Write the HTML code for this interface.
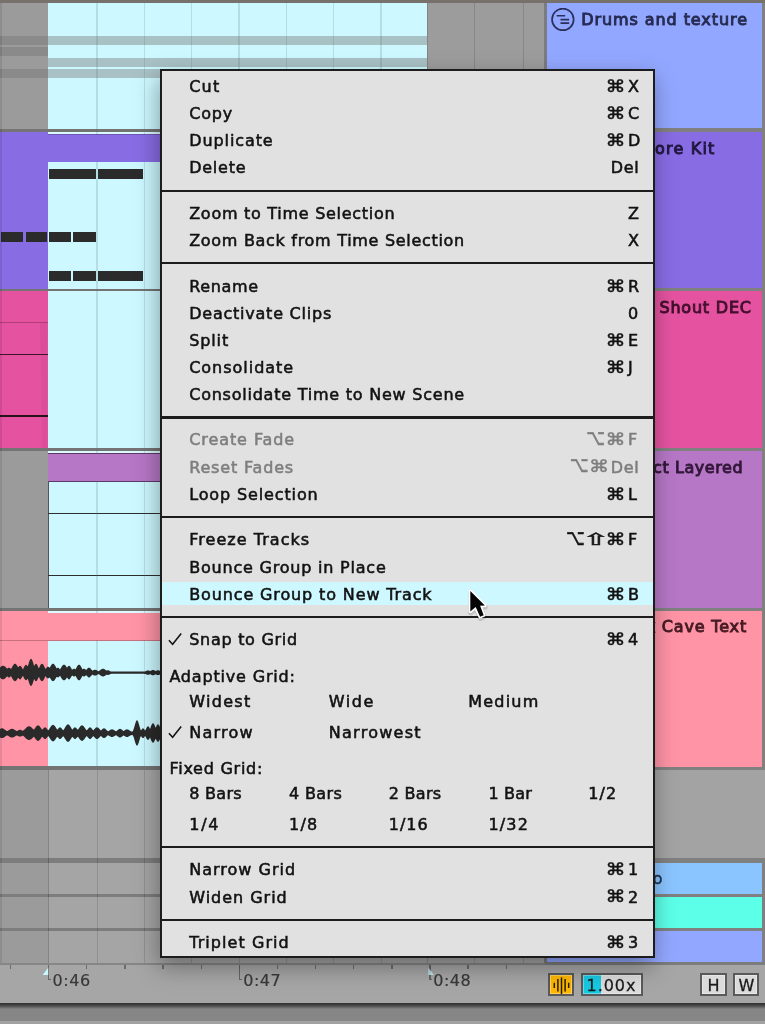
<!DOCTYPE html>
<html lang="en"><head><meta charset="utf-8"><title>Ableton Live context menu</title>
<style>
*{box-sizing:border-box;margin:0;padding:0}
html,body{width:765px;height:1024px;overflow:hidden;background:#a5a5a5}
body{font-family:"DejaVu Sans", "Liberation Sans", sans-serif;font-size:16px;color:#121212;position:relative;-webkit-font-smoothing:antialiased}
#app{position:absolute;left:0;top:0;width:765px;height:1024px;overflow:hidden;background:#a5a5a5}
.a{position:absolute}
.t{position:absolute;white-space:nowrap;line-height:20px;height:20px;-webkit-text-stroke:.55px currentColor}
#menu{position:absolute;left:160px;top:69px;width:494.5px;height:889px;background:#e1e1e1;border:2px solid #1c1c1c;box-shadow:-2px 9px 22px 0 rgba(0,0,0,.35)}
#menu .sep{position:absolute;left:0;right:0;height:2.4px;background:#1c1c1c}
#menu .hl{position:absolute;left:0;right:0;background:#cdf8ff}
#menu .dis{color:#7e7e7e}
.hd{position:absolute;left:547px;width:215px}
.hd b{position:absolute;white-space:nowrap;font-weight:normal;line-height:20px;height:20px;font-size:16px;-webkit-text-stroke:.95px currentColor}
.btn{position:absolute;top:973.3px;height:22.8px;border:2px solid #5a5a5a;background:#dbdbdb;box-shadow:inset 0 0 0 1px rgba(255,255,255,.35)}
.btn .t{-webkit-text-stroke:.28px currentColor}
</style></head>
<body><div id="app">
<div class="a" style="left:0px;top:0px;width:765px;height:3.2px;background:#77716c;"></div>
<div class="a" style="left:0px;top:3px;width:47.6px;height:125.5px;background:#9b9b9b;"></div>
<div class="a" style="left:47.6px;top:3px;width:379.5px;height:125.5px;background:#cdf8ff;"></div>
<div class="a" style="left:426.8px;top:3px;width:118px;height:125.5px;background:#9c9c9c;"></div>
<div class="a" style="left:0px;top:36.2px;width:47.6px;height:8.5px;background:#8a8a8a;"></div>
<div class="a" style="left:47.6px;top:36.2px;width:379.5px;height:8.5px;background:#a8c1c4;"></div>
<div class="a" style="left:0px;top:46.8px;width:47.6px;height:9px;background:#8a8a8a;"></div>
<div class="a" style="left:47.6px;top:58px;width:379.5px;height:8.7px;background:#a8c1c4;"></div>
<div class="a" style="left:0px;top:69px;width:47.6px;height:8.6px;background:#8a8a8a;"></div>
<div class="a" style="left:47.6px;top:69px;width:379.5px;height:8.6px;background:#a8c1c4;"></div>
<div class="a" style="left:0px;top:128.5px;width:545px;height:3px;background:#747474;"></div>
<div class="a" style="left:0px;top:288.3px;width:545px;height:3px;background:#747474;"></div>
<div class="a" style="left:0px;top:448px;width:545px;height:3px;background:#747474;"></div>
<div class="a" style="left:0px;top:607.5px;width:545px;height:3px;background:#747474;"></div>
<div class="a" style="left:0px;top:131.5px;width:47.6px;height:157px;background:#886ce4;"></div>
<div class="a" style="left:47.6px;top:131.5px;width:380px;height:157px;background:#cdf8ff;"></div>
<div class="a" style="left:47.6px;top:131.5px;width:380px;height:2.5px;background:#dcfaff;"></div>
<div class="a" style="left:0px;top:133.5px;width:427px;height:28.5px;background:#886ce4;"></div>
<div class="a" style="left:47.6px;top:133.5px;width:380px;height:1px;background:#6a55b5;"></div>
<div class="a" style="left:48.6px;top:169px;width:47.4px;height:10px;background:#2b2b2b;"></div>
<div class="a" style="left:97.8px;top:169px;width:45.6px;height:10px;background:#2b2b2b;"></div>
<div class="a" style="left:1px;top:232px;width:22.3px;height:10px;background:#2b2b2b;"></div>
<div class="a" style="left:25.5px;top:232px;width:21.5px;height:10px;background:#2b2b2b;"></div>
<div class="a" style="left:49px;top:232px;width:21.7px;height:10px;background:#2b2b2b;"></div>
<div class="a" style="left:73px;top:232px;width:23px;height:10px;background:#2b2b2b;"></div>
<div class="a" style="left:48.6px;top:270.5px;width:22.1px;height:10px;background:#2b2b2b;"></div>
<div class="a" style="left:73px;top:270.5px;width:23px;height:10px;background:#2b2b2b;"></div>
<div class="a" style="left:97.8px;top:270.5px;width:45.6px;height:10px;background:#2b2b2b;"></div>
<div class="a" style="left:0px;top:291.3px;width:47.6px;height:157px;background:#e553a0;"></div>
<div class="a" style="left:47.6px;top:291.3px;width:380px;height:157px;background:#cdf8ff;"></div>
<svg class="a" style="left:38px;top:322px" width="10" height="126"><polygon points="2,0 9.3,0 9.3,126 4.2,126" fill="#dc4e99"/></svg>
<div class="a" style="left:0px;top:321.5px;width:47.6px;height:1.2px;background:#b03c78;"></div>
<div class="a" style="left:0px;top:353.6px;width:47.6px;height:1.3px;background:#3a1528;"></div>
<div class="a" style="left:0px;top:415px;width:47.6px;height:1.5px;background:#2a0f1d;"></div>
<div class="a" style="left:0px;top:451px;width:47.6px;height:157px;background:#9b9b9b;"></div>
<div class="a" style="left:47.6px;top:451px;width:380px;height:157px;background:#cdf8ff;"></div>
<div class="a" style="left:47.6px;top:451px;width:380px;height:2.5px;background:#dcfaff;"></div>
<div class="a" style="left:47.6px;top:453.3px;width:380px;height:28.5px;background:#b677c6;border:1px solid #5d3a66"></div>
<div class="a" style="left:47.6px;top:481px;width:1.3px;height:127px;background:#555;"></div>
<div class="a" style="left:47.6px;top:512.8px;width:380px;height:1.3px;background:#2e2e2e;"></div>
<div class="a" style="left:47.6px;top:574.6px;width:380px;height:1.3px;background:#2e2e2e;"></div>
<div class="a" style="left:0px;top:610.5px;width:47.6px;height:156px;background:#ff94a6;"></div>
<div class="a" style="left:47.6px;top:610.5px;width:380px;height:156px;background:#cdf8ff;"></div>
<div class="a" style="left:47.6px;top:610.5px;width:380px;height:2.3px;background:#dcfaff;"></div>
<div class="a" style="left:47.6px;top:612.8px;width:380px;height:27.7px;background:#ff94a6;"></div>
<div class="a" style="left:0px;top:640px;width:427px;height:1px;background:#c9707f;"></div>
<div class="a" style="left:0px;top:766.3px;width:545px;height:3.5px;background:#747474;"></div>
<div class="a" style="left:0px;top:769.8px;width:47.8px;height:193px;background:#9b9b9b;"></div>
<div class="a" style="left:47.8px;top:769.8px;width:497px;height:193px;background:#a5a5a5;"></div>
<div class="a" style="left:0px;top:857.6px;width:545px;height:5px;background:#7d7d7d;"></div>
<div class="a" style="left:0px;top:893.6px;width:545px;height:3.2px;background:#7d7d7d;"></div>
<div class="a" style="left:0px;top:928px;width:545px;height:3.2px;background:#7d7d7d;"></div>
<div class="a" style="left:426.8px;top:131.5px;width:118px;height:635px;background:#9c9c9c;"></div>
<div class="a" style="left:426.8px;top:128.5px;width:118px;height:3px;background:#747474;"></div>
<div class="a" style="left:426.8px;top:288.3px;width:118px;height:3px;background:#747474;"></div>
<div class="a" style="left:426.8px;top:448px;width:118px;height:3px;background:#747474;"></div>
<div class="a" style="left:426.8px;top:607.5px;width:118px;height:3px;background:#747474;"></div>
<div class="a" style="left:426.8px;top:766.3px;width:118px;height:3px;background:#747474;"></div>
<div class="a" style="left:96.39999999999999px;top:3px;width:1.4px;height:763px;background:rgba(80,115,122,.2);"></div>
<div class="a" style="left:96.6px;top:770px;width:1px;height:193px;background:rgba(0,0,0,.13);"></div>
<div class="a" style="left:143.8px;top:3px;width:1.4px;height:763px;background:rgba(80,115,122,.2);"></div>
<div class="a" style="left:144px;top:770px;width:1px;height:193px;background:rgba(0,0,0,.13);"></div>
<div class="a" style="left:191.10000000000002px;top:3px;width:1.4px;height:763px;background:rgba(80,115,122,.2);"></div>
<div class="a" style="left:191.3px;top:770px;width:1px;height:193px;background:rgba(0,0,0,.13);"></div>
<div class="a" style="left:238.4px;top:3px;width:1.4px;height:763px;background:rgba(80,115,122,.2);"></div>
<div class="a" style="left:238.6px;top:770px;width:1px;height:193px;background:rgba(0,0,0,.13);"></div>
<div class="a" style="left:285.8px;top:3px;width:1.4px;height:763px;background:rgba(80,115,122,.2);"></div>
<div class="a" style="left:286px;top:770px;width:1px;height:193px;background:rgba(0,0,0,.13);"></div>
<div class="a" style="left:333.0px;top:3px;width:1.4px;height:763px;background:rgba(80,115,122,.2);"></div>
<div class="a" style="left:333.2px;top:770px;width:1px;height:193px;background:rgba(0,0,0,.13);"></div>
<div class="a" style="left:380.3px;top:3px;width:1.4px;height:763px;background:rgba(80,115,122,.2);"></div>
<div class="a" style="left:380.5px;top:770px;width:1px;height:193px;background:rgba(0,0,0,.13);"></div>
<div class="a" style="left:47.6px;top:770px;width:1.3px;height:193px;background:rgba(0,0,0,.2);"></div>
<div class="a" style="left:426.6px;top:3px;width:1.2px;height:960px;background:rgba(0,0,0,.16);"></div>
<div class="a" style="left:0px;top:3px;width:2px;height:960px;background:rgba(0,0,0,.09);"></div>
<div class="a" style="left:473.8px;top:3px;width:1px;height:960px;background:rgba(0,0,0,.13);"></div>
<div class="a" style="left:522.8px;top:3px;width:1px;height:960px;background:rgba(0,0,0,.13);"></div>
<div class="a" style="left:47.6px;top:134.5px;width:380px;height:27.5px;background:#886ce4;"></div>
<div class="a" style="left:48.3px;top:454.3px;width:378.5px;height:26.5px;background:#b677c6;"></div>
<div class="a" style="left:47.6px;top:612.8px;width:380px;height:27.2px;background:#ff94a6;"></div>
<div class="a" style="left:544.4px;top:3px;width:3px;height:960px;background:#7c7c7c;"></div>
<svg class="a" style="left:0;top:641px" width="162" height="126" viewBox="0 641 162 126"><polygon points="0.0,667.5 0.5,667.0 1.0,666.5 1.5,666.2 2.0,665.9 2.5,665.8 3.0,665.7 3.5,665.8 4.0,665.9 4.5,666.2 5.0,666.5 5.5,667.0 6.0,667.5 6.5,668.0 7.0,668.6 7.5,668.5 8.0,668.1 8.5,667.8 9.0,667.7 9.5,667.8 10.0,668.1 10.5,668.5 11.0,669.1 11.5,668.2 12.0,667.2 12.5,666.3 13.0,665.4 13.5,664.7 14.0,664.2 14.5,663.8 15.0,663.7 15.5,663.8 16.0,664.2 16.5,664.7 17.0,665.4 17.5,666.3 18.0,667.2 18.5,667.0 19.0,666.3 19.5,665.9 20.0,665.7 20.5,665.9 21.0,666.3 21.5,667.0 22.0,667.8 22.5,668.8 23.0,669.4 23.5,668.3 24.0,667.2 24.5,666.2 25.0,665.4 25.5,664.9 26.0,664.7 26.5,664.9 27.0,665.4 27.5,666.2 28.0,665.8 28.5,664.0 29.0,662.3 29.5,660.8 30.0,659.7 30.5,659.0 31.0,658.7 31.5,659.0 32.0,659.7 32.5,660.8 33.0,662.3 33.5,664.0 34.0,665.8 34.5,665.4 35.0,664.5 35.5,663.9 36.0,663.7 36.5,663.9 37.0,664.5 37.5,665.4 38.0,666.6 38.5,667.9 39.0,668.0 39.5,666.9 40.0,665.9 40.5,665.0 41.0,664.3 41.5,663.9 42.0,663.7 42.5,663.9 43.0,664.3 43.5,665.0 44.0,665.9 44.5,666.9 45.0,668.0 45.5,669.1 46.0,668.5 46.5,667.8 47.0,667.2 47.5,666.8 48.0,666.7 48.5,666.8 49.0,667.2 49.5,667.8 50.0,667.2 50.5,666.3 51.0,665.4 51.5,664.7 52.0,664.2 52.5,663.8 53.0,663.7 53.5,663.8 54.0,664.2 54.5,664.7 55.0,665.4 55.5,666.3 56.0,667.2 56.5,668.2 57.0,668.3 57.5,667.8 58.0,667.7 58.5,667.8 59.0,668.3 59.5,668.9 60.0,669.4 60.5,668.6 61.0,667.8 61.5,667.0 62.0,666.2 62.5,665.6 63.0,665.1 63.5,664.8 64.0,664.7 64.5,664.8 65.0,665.1 65.5,665.6 66.0,666.2 66.5,667.0 67.0,667.8 67.5,667.0 68.0,666.3 68.5,665.9 69.0,665.7 69.5,665.9 70.0,666.3 70.5,667.0 71.0,667.8 71.5,668.8 72.0,669.7 72.5,669.6 73.0,669.1 73.5,668.8 74.0,668.7 74.5,668.8 75.0,669.1 75.5,669.4 76.0,668.5 76.5,667.5 77.0,666.6 77.5,665.8 78.0,665.2 78.5,664.8 79.0,664.7 79.5,664.8 80.0,665.2 80.5,665.8 81.0,666.6 81.5,667.5 82.0,668.5 82.5,669.4 83.0,669.1 83.5,668.8 84.0,668.7 84.5,668.8 85.0,669.1 85.5,669.6 86.0,670.1 86.5,669.7 87.0,669.1 87.5,668.5 88.0,668.1 88.5,667.8 89.0,667.7 89.5,667.8 90.0,668.1 90.5,668.5 91.0,669.1 91.5,669.7 92.0,670.3 92.5,670.7 93.0,670.4 93.5,670.1 94.0,669.9 94.5,669.7 95.0,669.7 95.5,669.7 96.0,669.9 96.5,670.1 97.0,670.4 97.5,670.7 98.0,670.9 98.5,671.2 99.0,671.0 99.5,670.6 100.0,670.3 100.5,669.9 101.0,669.5 101.5,669.2 102.0,668.9 102.5,668.8 103.0,668.7 103.5,668.8 104.0,668.9 104.5,669.2 105.0,669.5 105.5,669.9 106.0,670.3 106.5,670.6 107.0,670.5 107.5,670.3 108.0,670.2 108.5,670.3 109.0,670.5 109.5,670.8 110.0,671.1 110.5,671.4 111.0,671.5 111.5,671.5 112.0,671.5 112.5,671.5 113.0,671.5 113.5,671.5 114.0,671.5 114.5,671.5 115.0,671.5 115.5,671.5 116.0,671.5 116.5,671.5 117.0,671.5 117.5,671.5 118.0,671.5 118.5,671.5 119.0,671.5 119.5,671.5 120.0,671.5 120.5,671.5 121.0,671.5 121.5,671.5 122.0,671.5 122.5,671.5 123.0,671.5 123.5,671.5 124.0,671.5 124.5,671.5 125.0,671.5 125.5,671.5 126.0,671.5 126.5,671.5 127.0,671.5 127.5,671.5 128.0,671.5 128.5,671.5 129.0,671.5 129.5,671.5 130.0,671.5 130.5,671.5 131.0,671.5 131.5,671.5 132.0,671.5 132.5,671.5 133.0,671.5 133.5,671.5 134.0,671.5 134.5,671.5 135.0,671.5 135.5,671.5 136.0,671.5 136.5,671.5 137.0,671.5 137.5,671.5 138.0,671.5 138.5,671.5 139.0,671.5 139.5,671.5 140.0,671.5 140.5,671.5 141.0,671.5 141.5,671.5 142.0,671.5 142.5,671.5 143.0,671.5 143.5,671.5 144.0,671.5 144.5,671.5 145.0,671.4 145.5,671.2 146.0,671.0 146.5,670.8 147.0,670.6 147.5,670.5 148.0,670.5 148.5,670.5 149.0,670.6 149.5,670.8 150.0,671.0 150.5,671.0 151.0,670.7 151.5,670.4 152.0,670.1 152.5,670.0 153.0,669.9 153.5,670.0 154.0,670.1 154.5,670.4 155.0,670.7 155.5,671.0 156.0,670.9 156.5,670.6 157.0,670.4 157.5,670.2 158.0,670.2 158.5,670.2 159.0,670.4 159.5,670.6 160.0,670.9 160.5,671.1 161.0,671.3 161.5,671.5 162.0,671.5 162.0,673.8 161.5,673.9 161.0,674.0 160.5,674.2 160.0,674.5 159.5,674.7 159.0,674.9 158.5,675.0 158.0,675.1 157.5,675.0 157.0,674.9 156.5,674.7 156.0,674.5 155.5,674.3 155.0,674.6 154.5,674.9 154.0,675.1 153.5,675.3 153.0,675.4 152.5,675.3 152.0,675.1 151.5,674.9 151.0,674.6 150.5,674.3 150.0,674.3 149.5,674.5 149.0,674.7 148.5,674.8 148.0,674.8 147.5,674.8 147.0,674.7 146.5,674.5 146.0,674.3 145.5,674.1 145.0,674.0 144.5,673.9 144.0,673.8 143.5,673.8 143.0,673.8 142.5,673.8 142.0,673.8 141.5,673.8 141.0,673.8 140.5,673.8 140.0,673.8 139.5,673.8 139.0,673.8 138.5,673.8 138.0,673.8 137.5,673.8 137.0,673.8 136.5,673.8 136.0,673.8 135.5,673.8 135.0,673.8 134.5,673.8 134.0,673.8 133.5,673.8 133.0,673.8 132.5,673.8 132.0,673.8 131.5,673.8 131.0,673.8 130.5,673.8 130.0,673.8 129.5,673.8 129.0,673.8 128.5,673.8 128.0,673.8 127.5,673.8 127.0,673.8 126.5,673.8 126.0,673.8 125.5,673.8 125.0,673.8 124.5,673.8 124.0,673.8 123.5,673.8 123.0,673.8 122.5,673.8 122.0,673.8 121.5,673.8 121.0,673.8 120.5,673.8 120.0,673.8 119.5,673.8 119.0,673.8 118.5,673.8 118.0,673.8 117.5,673.8 117.0,673.8 116.5,673.8 116.0,673.8 115.5,673.8 115.0,673.8 114.5,673.8 114.0,673.8 113.5,673.8 113.0,673.8 112.5,673.8 112.0,673.8 111.5,673.8 111.0,673.9 110.5,674.0 110.0,674.2 109.5,674.5 109.0,674.8 108.5,675.0 108.0,675.1 107.5,675.0 107.0,674.8 106.5,674.7 106.0,675.0 105.5,675.4 105.0,675.7 104.5,676.1 104.0,676.3 103.5,676.4 103.0,676.5 102.5,676.4 102.0,676.3 101.5,676.1 101.0,675.7 100.5,675.4 100.0,675.0 99.5,674.7 99.0,674.3 98.5,674.1 98.0,674.4 97.5,674.6 97.0,674.9 96.5,675.2 96.0,675.4 95.5,675.5 95.0,675.6 94.5,675.5 94.0,675.4 93.5,675.2 93.0,674.9 92.5,674.6 92.0,675.0 91.5,675.5 91.0,676.1 90.5,676.6 90.0,677.1 89.5,677.4 89.0,677.5 88.5,677.4 88.0,677.1 87.5,676.6 87.0,676.1 86.5,675.5 86.0,675.2 85.5,675.7 85.0,676.1 84.5,676.4 84.0,676.5 83.5,676.4 83.0,676.1 82.5,675.8 82.0,676.7 81.5,677.6 81.0,678.5 80.5,679.2 80.0,679.8 79.5,680.2 79.0,680.3 78.5,680.2 78.0,679.8 77.5,679.2 77.0,678.5 76.5,677.6 76.0,676.7 75.5,675.8 75.0,676.1 74.5,676.4 74.0,676.5 73.5,676.4 73.0,676.1 72.5,675.7 72.0,675.5 71.5,676.4 71.0,677.3 70.5,678.1 70.0,678.8 69.5,679.2 69.0,679.4 68.5,679.2 68.0,678.8 67.5,678.1 67.0,677.4 66.5,678.2 66.0,678.9 65.5,679.5 65.0,679.9 64.5,680.2 64.0,680.3 63.5,680.2 63.0,679.9 62.5,679.5 62.0,678.9 61.5,678.2 61.0,677.4 60.5,676.6 60.0,675.8 59.5,676.3 59.0,676.9 58.5,677.3 58.0,677.5 57.5,677.3 57.0,676.9 56.5,677.0 56.0,677.9 55.5,678.8 55.0,679.6 54.5,680.3 54.0,680.8 53.5,681.1 53.0,681.2 52.5,681.1 52.0,680.8 51.5,680.3 51.0,679.6 50.5,678.8 50.0,677.9 49.5,677.4 49.0,677.9 48.5,678.3 48.0,678.4 47.5,678.3 47.0,677.9 46.5,677.4 46.0,676.7 45.5,676.1 45.0,677.1 44.5,678.2 44.0,679.2 43.5,680.0 43.0,680.7 42.5,681.1 42.0,681.2 41.5,681.1 41.0,680.7 40.5,680.0 40.0,679.2 39.5,678.2 39.0,677.1 38.5,677.3 38.0,678.5 37.5,679.6 37.0,680.5 36.5,681.1 36.0,681.2 35.5,681.1 35.0,680.5 34.5,679.6 34.0,679.2 33.5,680.9 33.0,682.6 32.5,684.0 32.0,685.1 31.5,685.8 31.0,686.0 30.5,685.8 30.0,685.1 29.5,684.0 29.0,682.6 28.5,680.9 28.0,679.2 27.5,678.9 27.0,679.6 26.5,680.1 26.0,680.3 25.5,680.1 25.0,679.6 24.5,678.9 24.0,677.9 23.5,676.9 23.0,675.8 22.5,676.4 22.0,677.3 21.5,678.1 21.0,678.8 20.5,679.2 20.0,679.4 19.5,679.2 19.0,678.8 18.5,678.1 18.0,677.9 17.5,678.8 17.0,679.6 16.5,680.3 16.0,680.8 15.5,681.1 15.0,681.2 14.5,681.1 14.0,680.8 13.5,680.3 13.0,679.6 12.5,678.8 12.0,677.9 11.5,677.0 11.0,676.1 10.5,676.6 10.0,677.1 9.5,677.4 9.0,677.5 8.5,677.4 8.0,677.1 7.5,676.6 7.0,676.6 6.5,677.1 6.0,677.6 5.5,678.1 5.0,678.5 4.5,678.9 4.0,679.1 3.5,679.3 3.0,679.4 2.5,679.3 2.0,679.1 1.5,678.9 1.0,678.5 0.5,678.1 0.0,677.6" fill="#2a2a2a"/><polygon points="0.0,729.0 0.5,728.7 1.0,728.5 1.5,728.3 2.0,728.3 2.5,728.3 3.0,728.5 3.5,728.7 4.0,729.0 4.5,729.4 5.0,729.7 5.5,730.1 6.0,730.5 6.5,730.9 7.0,731.1 7.5,731.0 8.0,730.7 8.5,730.3 9.0,730.0 9.5,729.7 10.0,729.4 10.5,729.1 11.0,729.0 11.5,728.8 12.0,728.8 12.5,728.8 13.0,729.0 13.5,729.1 14.0,729.4 14.5,729.7 15.0,730.0 15.5,730.3 16.0,730.7 16.5,731.0 17.0,731.0 17.5,730.7 18.0,730.4 18.5,730.2 19.0,730.0 19.5,729.8 20.0,729.8 20.5,729.8 21.0,730.0 21.5,730.2 22.0,730.4 22.5,730.7 23.0,730.7 23.5,730.3 24.0,729.9 24.5,729.4 25.0,728.9 25.5,728.4 26.0,727.9 26.5,727.5 27.0,727.1 27.5,726.7 28.0,726.5 28.5,726.3 29.0,726.3 29.5,726.3 30.0,726.5 30.5,726.7 31.0,727.1 31.5,727.5 32.0,727.9 32.5,728.4 33.0,728.9 33.5,729.4 34.0,729.6 34.5,728.9 35.0,728.1 35.5,727.4 36.0,726.7 36.5,726.1 37.0,725.7 37.5,725.4 38.0,725.3 38.5,725.4 39.0,725.7 39.5,726.1 40.0,726.7 40.5,727.4 41.0,728.1 41.5,728.9 42.0,729.6 42.5,729.5 43.0,728.9 43.5,728.2 44.0,727.7 44.5,727.4 45.0,727.3 45.5,727.4 46.0,727.7 46.5,728.2 47.0,728.9 47.5,729.5 48.0,730.2 48.5,730.1 49.0,729.4 49.5,728.6 50.0,727.8 50.5,727.0 51.0,726.3 51.5,725.7 52.0,725.2 52.5,724.9 53.0,724.8 53.5,724.9 54.0,725.2 54.5,725.7 55.0,726.3 55.5,727.0 56.0,727.8 56.5,728.6 57.0,729.4 57.5,729.5 58.0,728.9 58.5,728.2 59.0,727.7 59.5,727.4 60.0,727.3 60.5,727.4 61.0,727.7 61.5,728.2 62.0,728.9 62.5,729.5 63.0,730.2 63.5,730.0 64.0,729.3 64.5,728.4 65.0,727.5 65.5,726.7 66.0,725.9 66.5,725.2 67.0,724.7 67.5,724.4 68.0,724.3 68.5,724.4 69.0,724.7 69.5,725.2 70.0,725.9 70.5,726.7 71.0,727.5 71.5,728.4 72.0,729.3 72.5,729.5 73.0,728.9 73.5,728.2 74.0,727.7 74.5,727.4 75.0,727.3 75.5,727.4 76.0,727.7 76.5,728.2 77.0,728.9 77.5,729.5 78.0,729.6 78.5,728.9 79.0,728.1 79.5,727.4 80.0,726.7 80.5,726.1 81.0,725.7 81.5,725.4 82.0,725.3 82.5,725.4 83.0,725.7 83.5,726.1 84.0,726.7 84.5,727.4 85.0,728.1 85.5,728.9 86.0,729.6 86.5,730.2 87.0,730.2 87.5,729.5 88.0,728.9 88.5,728.2 89.0,727.7 89.5,727.4 90.0,727.3 90.5,727.4 91.0,727.7 91.5,728.2 92.0,728.9 92.5,729.5 93.0,730.2 93.5,730.2 94.0,729.6 94.5,729.0 95.0,728.5 95.5,728.0 96.0,727.6 96.5,727.4 97.0,727.3 97.5,727.4 98.0,727.6 98.5,728.0 99.0,728.5 99.5,729.0 100.0,729.6 100.5,730.2 101.0,730.5 101.5,730.0 102.0,729.5 102.5,729.0 103.0,728.6 103.5,728.4 104.0,728.3 104.5,728.4 105.0,728.6 105.5,729.0 106.0,729.5 106.5,730.0 107.0,730.5 107.5,731.0 108.0,731.3 108.5,731.1 109.0,730.8 109.5,730.5 110.0,730.1 110.5,729.8 111.0,729.5 111.5,729.4 112.0,729.3 112.5,729.4 113.0,729.5 113.5,729.8 114.0,730.1 114.5,730.5 115.0,730.8 115.5,731.1 116.0,731.3 116.5,731.0 117.0,730.7 117.5,730.2 118.0,729.8 118.5,729.4 119.0,729.1 119.5,728.9 120.0,728.8 120.5,728.9 121.0,729.1 121.5,729.4 122.0,729.8 122.5,730.2 123.0,730.7 123.5,731.0 124.0,730.8 124.5,730.5 125.0,730.1 125.5,729.8 126.0,729.5 126.5,729.4 127.0,729.3 127.5,729.4 128.0,729.5 128.5,729.8 129.0,730.1 129.5,730.5 130.0,730.8 130.5,731.1 131.0,731.4 131.5,731.5 132.0,731.5 132.5,731.4 133.0,730.7 133.5,729.6 134.0,728.0 134.5,726.3 135.0,724.5 135.5,722.8 136.0,721.5 136.5,720.6 137.0,720.3 137.5,720.6 138.0,721.5 138.5,722.8 139.0,724.5 139.5,726.3 140.0,728.0 140.5,729.6 141.0,730.5 141.5,729.7 142.0,729.0 142.5,728.5 143.0,728.3 143.5,728.5 144.0,729.0 144.5,729.7 145.0,730.5 145.5,729.9 146.0,728.9 146.5,727.9 147.0,727.1 147.5,726.5 148.0,726.3 148.5,726.5 149.0,727.1 149.5,727.9 150.0,728.9 150.5,727.7 151.0,726.3 151.5,725.1 152.0,724.1 152.5,723.5 153.0,723.3 153.5,723.5 154.0,724.1 154.5,725.1 155.0,726.3 155.5,727.7 156.0,727.0 156.5,725.9 157.0,725.0 157.5,724.5 158.0,724.3 158.5,724.5 159.0,725.0 159.5,725.9 160.0,727.0 160.5,728.1 161.0,726.7 161.5,725.7 162.0,725.3 162.0,740.9 161.5,740.6 161.0,739.6 160.5,738.2 160.0,739.3 159.5,740.3 159.0,741.1 158.5,741.7 158.0,741.8 157.5,741.7 157.0,741.1 156.5,740.3 156.0,739.3 155.5,738.7 155.0,739.9 154.5,741.1 154.0,742.0 153.5,742.6 153.0,742.8 152.5,742.6 152.0,742.0 151.5,741.1 151.0,739.9 150.5,738.7 150.0,737.5 149.5,738.4 149.0,739.2 148.5,739.8 148.0,739.9 147.5,739.8 147.0,739.2 146.5,738.4 146.0,737.5 145.5,736.5 145.0,735.9 144.5,736.7 144.0,737.4 143.5,737.9 143.0,738.0 142.5,737.9 142.0,737.4 141.5,736.7 141.0,735.9 140.5,736.8 140.0,738.3 139.5,740.0 139.0,741.7 138.5,743.3 138.0,744.6 137.5,745.4 137.0,745.6 136.5,745.4 136.0,744.6 135.5,743.3 135.0,741.7 134.5,740.0 134.0,738.3 133.5,736.8 133.0,735.7 132.5,735.1 132.0,735.0 131.5,735.0 131.0,735.2 130.5,735.4 130.0,735.7 129.5,736.0 129.0,736.3 128.5,736.6 128.0,736.9 127.5,737.0 127.0,737.1 126.5,737.0 126.0,736.9 125.5,736.6 125.0,736.3 124.5,736.0 124.0,735.7 123.5,735.4 123.0,735.8 122.5,736.2 122.0,736.6 121.5,737.0 121.0,737.3 120.5,737.5 120.0,737.6 119.5,737.5 119.0,737.3 118.5,737.0 118.0,736.6 117.5,736.2 117.0,735.8 116.5,735.4 116.0,735.2 115.5,735.4 115.0,735.7 114.5,736.0 114.0,736.3 113.5,736.6 113.0,736.9 112.5,737.0 112.0,737.1 111.5,737.0 111.0,736.9 110.5,736.6 110.0,736.3 109.5,736.0 109.0,735.7 108.5,735.4 108.0,735.2 107.5,735.5 107.0,735.9 106.5,736.4 106.0,736.9 105.5,737.4 105.0,737.7 104.5,738.0 104.0,738.0 103.5,738.0 103.0,737.7 102.5,737.4 102.0,736.9 101.5,736.4 101.0,735.9 100.5,736.2 100.0,736.8 99.5,737.3 99.0,737.9 98.5,738.3 98.0,738.7 97.5,738.9 97.0,739.0 96.5,738.9 96.0,738.7 95.5,738.3 95.0,737.9 94.5,737.3 94.0,736.8 93.5,736.2 93.0,736.2 92.5,736.9 92.0,737.5 91.5,738.1 91.0,738.6 90.5,738.9 90.0,739.0 89.5,738.9 89.0,738.6 88.5,738.1 88.0,737.5 87.5,736.9 87.0,736.2 86.5,736.2 86.0,736.8 85.5,737.5 85.0,738.2 84.5,738.9 84.0,739.6 83.5,740.1 83.0,740.6 82.5,740.8 82.0,740.9 81.5,740.8 81.0,740.6 80.5,740.1 80.0,739.6 79.5,738.9 79.0,738.2 78.5,737.5 78.0,736.8 77.5,736.9 77.0,737.5 76.5,738.1 76.0,738.6 75.5,738.9 75.0,739.0 74.5,738.9 74.0,738.6 73.5,738.1 73.0,737.5 72.5,736.9 72.0,737.1 71.5,737.9 71.0,738.8 70.5,739.6 70.0,740.3 69.5,741.0 69.0,741.4 68.5,741.7 68.0,741.8 67.5,741.7 67.0,741.4 66.5,741.0 66.0,740.3 65.5,739.6 65.0,738.8 64.5,737.9 64.0,737.1 63.5,736.4 63.0,736.2 62.5,736.9 62.0,737.5 61.5,738.1 61.0,738.6 60.5,738.9 60.0,739.0 59.5,738.9 59.0,738.6 58.5,738.1 58.0,737.5 57.5,736.9 57.0,737.0 56.5,737.7 56.0,738.5 55.5,739.3 55.0,740.0 54.5,740.6 54.0,741.0 53.5,741.3 53.0,741.4 52.5,741.3 52.0,741.0 51.5,740.6 51.0,740.0 50.5,739.3 50.0,738.5 49.5,737.7 49.0,737.0 48.5,736.3 48.0,736.2 47.5,736.9 47.0,737.5 46.5,738.1 46.0,738.6 45.5,738.9 45.0,739.0 44.5,738.9 44.0,738.6 43.5,738.1 43.0,737.5 42.5,736.9 42.0,736.8 41.5,737.5 41.0,738.2 40.5,738.9 40.0,739.6 39.5,740.1 39.0,740.6 38.5,740.8 38.0,740.9 37.5,740.8 37.0,740.6 36.5,740.1 36.0,739.6 35.5,738.9 35.0,738.2 34.5,737.5 34.0,736.8 33.5,737.0 33.0,737.5 32.5,738.0 32.0,738.4 31.5,738.9 31.0,739.2 30.5,739.5 30.0,739.8 29.5,739.9 29.0,739.9 28.5,739.9 28.0,739.8 27.5,739.5 27.0,739.2 26.5,738.9 26.0,738.4 25.5,738.0 25.0,737.5 24.5,737.0 24.0,736.5 23.5,736.1 23.0,735.7 22.5,735.8 22.0,736.0 21.5,736.3 21.0,736.5 20.5,736.6 20.0,736.6 19.5,736.6 19.0,736.5 18.5,736.3 18.0,736.0 17.5,735.8 17.0,735.5 16.5,735.5 16.0,735.8 15.5,736.1 15.0,736.4 14.5,736.7 14.0,737.0 13.5,737.2 13.0,737.4 12.5,737.5 12.0,737.6 11.5,737.5 11.0,737.4 10.5,737.2 10.0,737.0 9.5,736.7 9.0,736.4 8.5,736.1 8.0,735.8 7.5,735.5 7.0,735.4 6.5,735.6 6.0,735.9 5.5,736.3 5.0,736.7 4.5,737.0 4.0,737.4 3.5,737.7 3.0,737.9 2.5,738.0 2.0,738.0 1.5,738.0 1.0,737.9 0.5,737.7 0.0,737.4" fill="#2a2a2a"/></svg>
<div class="a" style="left:547.6px;top:3px;width:218px;height:960px;background:#808080;"></div>
<div class="hd" style="top:3px;height:125px;background:#92a7ff"><svg class="a" style="left:4px;top:4.5px" width="24" height="24" viewBox="0 0 24 24"><circle cx="11.85" cy="11.4" r="10.8" fill="none" stroke="#2b305a" stroke-width="1.7"/><path d="M5.6 7.8H14.2M9.5 11.6H18.1M9.5 15.1H18.1" stroke="#2b305a" stroke-width="1.6" fill="none"/></svg><b style="right:14.1px;top:7.0px;color:#272b50;letter-spacing:0.92px">Drums and texture</b></div>
<div class="hd" style="top:131.5px;height:156.5px;background:#886ce4"><b style="right:46.5px;top:7.4px;color:#221840;letter-spacing:1.19px">Core Kit</b></div>
<div class="hd" style="top:291.3px;height:156.5px;background:#e553a0"><b style="right:10.2px;top:6.8px;color:#43102e;letter-spacing:0.8px">Shout DEC</b></div>
<div class="hd" style="top:451px;height:156.5px;background:#b677c6"><b style="right:18.8px;top:7.1px;color:#33183a;letter-spacing:0.57px">Impact Layered</b></div>
<div class="hd" style="top:610.5px;height:156px;background:#ff94a6"><b style="right:15.0px;top:6.5px;color:#451b23;letter-spacing:0.83px">Dark Cave Text</b></div>
<div class="a" style="left:547.6px;top:769.8px;width:218px;height:88px;background:#a3a3a3;"></div>
<div class="hd" style="top:862.6px;height:31px;background:#8bc5ff"><b style="right:98.6px;top:6.9px;color:#1d2f4a;letter-spacing:.8px;-webkit-text-stroke:.35px #1d2f4a">Piano</b></div>
<div class="hd" style="top:897px;height:31px;background:#5cffe8"></div>
<div class="hd" style="top:931.2px;height:31px;background:#92a7ff"></div>
<div class="a" style="left:0px;top:962.5px;width:765px;height:41px;background:#a6a6a6;"></div>
<div class="a" style="left:0px;top:962.5px;width:545px;height:2.8px;background:#868686;"></div>
<div class="a" style="left:545px;top:962.3px;width:220px;height:3.2px;background:#7c7c7c;"></div>
<div class="a" style="left:9.8px;top:965px;width:1.4px;height:4px;background:#6c6c6c;"></div>
<div class="a" style="left:47.9px;top:965px;width:1.4px;height:14.8px;background:#666;"></div>
<div class="a" style="left:47.9px;top:978.6px;width:3px;height:1.3px;background:#666;"></div>
<div class="a" style="left:86.0px;top:965px;width:1.4px;height:4px;background:#6c6c6c;"></div>
<div class="a" style="left:124.2px;top:965px;width:1.4px;height:4px;background:#6c6c6c;"></div>
<div class="a" style="left:162.3px;top:965px;width:1.4px;height:4px;background:#6c6c6c;"></div>
<div class="a" style="left:200.5px;top:965px;width:1.4px;height:4px;background:#6c6c6c;"></div>
<div class="a" style="left:238.6px;top:965px;width:1.4px;height:14.8px;background:#666;"></div>
<div class="a" style="left:238.6px;top:978.6px;width:3px;height:1.3px;background:#666;"></div>
<div class="a" style="left:276.7px;top:965px;width:1.4px;height:4px;background:#6c6c6c;"></div>
<div class="a" style="left:314.9px;top:965px;width:1.4px;height:4px;background:#6c6c6c;"></div>
<div class="a" style="left:353.0px;top:965px;width:1.4px;height:4px;background:#6c6c6c;"></div>
<div class="a" style="left:391.2px;top:965px;width:1.4px;height:4px;background:#6c6c6c;"></div>
<div class="a" style="left:429.3px;top:965px;width:1.4px;height:14.8px;background:#666;"></div>
<div class="a" style="left:429.3px;top:978.6px;width:3px;height:1.3px;background:#666;"></div>
<div class="a" style="left:467.4px;top:965px;width:1.4px;height:4px;background:#6c6c6c;"></div>
<div class="a" style="left:505.6px;top:965px;width:1.4px;height:4px;background:#6c6c6c;"></div>
<svg class="a" style="left:42px;top:967px" width="8" height="9"><polygon points="0.6,8 6.2,8 6.2,0.8" fill="#c9f7ff"/></svg>
<svg class="a" style="left:426px;top:967px" width="9" height="9"><polygon points="2.4,0.8 2.4,8 8,8" fill="#c9f7ff" opacity=".8"/></svg>
<span class="t" style="left:52.6px;top:970.9px;color:#383838;font-size:16px;letter-spacing:.55px;-webkit-text-stroke:.2px #383838">0:46</span>
<span class="t" style="left:243.2px;top:970.9px;color:#383838;font-size:16px;letter-spacing:.55px;-webkit-text-stroke:.2px #383838">0:47</span>
<span class="t" style="left:433.2px;top:970.9px;color:#383838;font-size:16px;letter-spacing:.55px;-webkit-text-stroke:.2px #383838">0:48</span>
<div class="a" style="left:0;top:1003.2px;width:765px;height:6px;background:linear-gradient(#2e2e2e,#4a4a4a 45%,#858585)"></div>
<div class="a" style="left:0px;top:1009px;width:765px;height:11.5px;background:#868686;"></div>
<div class="a" style="left:0px;top:1020.5px;width:765px;height:4px;background:#a2a2a2;"></div>
<div class="btn" style="left:547.5px;width:26.8px;background:#ffb700"><svg class="a" style="left:-1.8px;top:-1.8px" width="27" height="23" viewBox="0 0 27 23"><path d="M6.3 8.7v5.4M9.9 5v12.6M13.5 3.4v16.6M17.1 5v12.6M20.7 8.7v5.4" stroke="#262000" stroke-width="1.5" fill="none"/></svg></div>
<div class="btn" style="left:580.5px;width:62.8px;background:linear-gradient(90deg,#17c9e2 0,#17c9e2 17.8px,#dcdcdc 17.8px)"><span class="t" style="left:4px;top:.3px;font-size:16px;letter-spacing:.95px;color:#1a1a1a">1.00x</span></div>
<div class="btn" style="left:700.4px;width:26.4px"><span class="t" style="left:5px;top:.3px;font-size:16px;color:#1a1a1a">H</span></div>
<div class="btn" style="left:732.6px;width:26.6px"><span class="t" style="left:3.8px;top:.3px;font-size:16px;color:#1a1a1a">W</span></div>
<div id="menu"><span class="t" style="left:27.2px;top:6.4px;letter-spacing:1.2px;">Cut</span><span class="t sc" style="left:466.0px;top:6.4px;">X</span><span class="t" style="left:27.2px;top:33.4px;letter-spacing:0.8px;">Copy</span><span class="t sc" style="left:466.0px;top:33.4px;">C</span><span class="t" style="left:27.2px;top:60.4px;letter-spacing:0.91px;">Duplicate</span><span class="t sc" style="left:466.0px;top:60.4px;">D</span><span class="t" style="left:27.2px;top:87.4px;letter-spacing:0.76px;">Delete</span><span class="t sc" style="right:13.3px;top:87.4px;letter-spacing:.6px">Del</span><div class="sep" style="top:119px"></div><span class="t" style="left:27.2px;top:133.4px;letter-spacing:0.72px;">Zoom to Time Selection</span><span class="t sc" style="left:466.0px;top:133.4px;">Z</span><span class="t" style="left:27.2px;top:160.4px;letter-spacing:0.7px;">Zoom Back from Time Selection</span><span class="t sc" style="left:466.0px;top:160.4px;">X</span><div class="sep" style="top:191px"></div><span class="t" style="left:27.2px;top:205.9px;letter-spacing:0.68px;">Rename</span><span class="t sc" style="left:466.0px;top:205.9px;">R</span><span class="t" style="left:27.2px;top:232.9px;letter-spacing:0.77px;">Deactivate Clips</span><span class="t sc" style="left:466.0px;top:232.9px;">0</span><span class="t" style="left:27.2px;top:259.9px;letter-spacing:0.88px;">Split</span><span class="t sc" style="left:466.0px;top:259.9px;">E</span><span class="t" style="left:27.2px;top:286.9px;letter-spacing:0.98px;">Consolidate</span><span class="t sc" style="left:466.0px;top:286.9px;">J</span><span class="t" style="left:27.2px;top:313.9px;letter-spacing:0.77px;">Consolidate Time to New Scene</span><div class="sep" style="top:345.3px"></div><span class="t dis" style="left:27.2px;top:359.4px;letter-spacing:0.92px;">Create Fade</span><span class="t dis sc" style="left:466.0px;top:359.4px;">F</span><span class="t dis" style="left:27.2px;top:386.6px;letter-spacing:0.83px;">Reset Fades</span><span class="t dis sc" style="right:13.3px;top:386.6px;letter-spacing:.6px">Del</span><span class="t" style="left:27.2px;top:413.7px;letter-spacing:0.87px;">Loop Selection</span><span class="t sc" style="left:466.0px;top:413.7px;">L</span><div class="sep" style="top:444.9px"></div><span class="t" style="left:27.2px;top:459.4px;letter-spacing:1.04px;">Freeze Tracks</span><span class="t sc" style="left:466.0px;top:459.4px;">F</span><span class="t" style="left:27.2px;top:486.6px;letter-spacing:0.79px;">Bounce Group in Place</span><div class="hl" style="top:510.79999999999995px;height:23.4px"></div><span class="t" style="left:27.2px;top:513.7px;letter-spacing:0.87px;">Bounce Group to New Track</span><span class="t sc" style="left:466.0px;top:513.7px;">B</span><div class="sep" style="top:545.1px"></div><span class="t" style="left:27.2px;top:559.2px;letter-spacing:0.72px;">Snap to Grid</span><svg class="a" style="left:6px;top:561.3px" width="15" height="14" viewBox="0 0 15 14"><path d="M0.9 8.2L4.6 12.2L13.2 1.4" stroke="#141414" stroke-width="1.55" fill="none"/></svg><span class="t sc" style="left:466.0px;top:559.2px;">4</span><span class="t" style="left:7.4px;top:595.6px;letter-spacing:0.82px;">Adaptive Grid:</span><span class="t" style="left:27.2px;top:620.6px;letter-spacing:1.29px;">Widest</span><span class="t" style="left:166.8px;top:620.6px;letter-spacing:1.53px;">Wide</span><span class="t" style="left:306.3px;top:620.6px;letter-spacing:1.2px;">Medium</span><span class="t" style="left:27.2px;top:651.9px;letter-spacing:1.27px;">Narrow</span><svg class="a" style="left:6px;top:654.0px" width="15" height="14" viewBox="0 0 15 14"><path d="M0.9 8.2L4.6 12.2L13.2 1.4" stroke="#141414" stroke-width="1.55" fill="none"/></svg><span class="t" style="left:166.8px;top:651.9px;letter-spacing:1.26px;">Narrowest</span><span class="t" style="left:7.4px;top:688.0px;letter-spacing:0.75px;">Fixed Grid:</span><span class="t" style="left:27.2px;top:713.2px;letter-spacing:0.31px;">8 Bars</span><span class="t" style="left:126.9px;top:713.2px;letter-spacing:0.39px;">4 Bars</span><span class="t" style="left:226.7px;top:713.2px;letter-spacing:0.31px;">2 Bars</span><span class="t" style="left:326.4px;top:713.2px;letter-spacing:0.22px;">1 Bar</span><span class="t" style="left:426.2px;top:713.2px;letter-spacing:1.12px;">1/2</span><span class="t" style="left:27.2px;top:743.8px;letter-spacing:1.78px;">1/4</span><span class="t" style="left:126.9px;top:743.8px;letter-spacing:1.32px;">1/8</span><span class="t" style="left:226.7px;top:743.8px;letter-spacing:1.02px;">1/16</span><span class="t" style="left:326.4px;top:743.8px;letter-spacing:1.19px;">1/32</span><div class="sep" style="top:774.8px"></div><span class="t" style="left:27.2px;top:789.4px;letter-spacing:1.02px;">Narrow Grid</span><span class="t sc" style="left:466.0px;top:789.4px;">1</span><span class="t" style="left:27.2px;top:816.6px;letter-spacing:0.98px;">Widen Grid</span><span class="t sc" style="left:466.0px;top:816.6px;">2</span><div class="sep" style="top:847.6px"></div><span class="t" style="left:27.2px;top:861.9px;letter-spacing:1.06px;">Triplet Grid</span><span class="t sc" style="left:466.0px;top:861.9px;">3</span><svg class="a" style="left:0;top:0;font-family:DejaVu Sans,Liberation Sans,sans-serif;font-size:40px" width="490" height="885"><text transform="translate(443.5 21.2) scale(0.5 0.423)" fill="#121212" stroke="#121212" stroke-width="1.1">⌘</text><text transform="translate(443.5 48.2) scale(0.5 0.423)" fill="#121212" stroke="#121212" stroke-width="1.1">⌘</text><text transform="translate(443.5 75.2) scale(0.5 0.423)" fill="#121212" stroke="#121212" stroke-width="1.1">⌘</text><text transform="translate(443.5 220.7) scale(0.5 0.423)" fill="#121212" stroke="#121212" stroke-width="1.1">⌘</text><text transform="translate(443.5 274.7) scale(0.5 0.423)" fill="#121212" stroke="#121212" stroke-width="1.1">⌘</text><text transform="translate(443.5 301.7) scale(0.5 0.423)" fill="#121212" stroke="#121212" stroke-width="1.1">⌘</text><text transform="translate(443.5 374.2) scale(0.5 0.423)" fill="#7e7e7e" stroke="#7e7e7e" stroke-width="1.1">⌘</text><text transform="translate(424.49 374.2) scale(0.403 0.552)" fill="#7e7e7e" stroke="#7e7e7e" stroke-width="1.1">⌥</text><text transform="translate(427.1 401.4) scale(0.5 0.423)" fill="#7e7e7e" stroke="#7e7e7e" stroke-width="1.1">⌘</text><text transform="translate(408.09 401.4) scale(0.403 0.552)" fill="#7e7e7e" stroke="#7e7e7e" stroke-width="1.1">⌥</text><text transform="translate(443.5 428.5) scale(0.5 0.423)" fill="#121212" stroke="#121212" stroke-width="1.1">⌘</text><text transform="translate(443.5 474.2) scale(0.5 0.423)" fill="#121212" stroke="#121212" stroke-width="1.1">⌘</text><text transform="translate(419.88 474.2) scale(0.832 0.423)" fill="#121212" stroke="#121212" stroke-width="1.1">⇧</text><text transform="translate(404.19 474.2) scale(0.403 0.552)" fill="#121212" stroke="#121212" stroke-width="1.1">⌥</text><text transform="translate(443.5 528.5) scale(0.5 0.423)" fill="#121212" stroke="#121212" stroke-width="1.1">⌘</text><text transform="translate(443.5 574.0) scale(0.5 0.423)" fill="#121212" stroke="#121212" stroke-width="1.1">⌘</text><text transform="translate(443.5 804.2) scale(0.5 0.423)" fill="#121212" stroke="#121212" stroke-width="1.1">⌘</text><text transform="translate(443.5 831.4) scale(0.5 0.423)" fill="#121212" stroke="#121212" stroke-width="1.1">⌘</text><text transform="translate(443.5 876.7) scale(0.5 0.423)" fill="#121212" stroke="#121212" stroke-width="1.1">⌘</text></svg></div>
<svg class="a" style="left:460px;top:580px" width="40" height="50" viewBox="460 580 40 50"><path d="M470.3 591V611.4L475.7 607L480.1 616.8L483.7 615.3L480.1 605.8L484.9 605.5Z" fill="#000" fill-opacity=".22" stroke="#000" stroke-opacity=".14" stroke-width="5" stroke-linejoin="round" transform="translate(0.3 1.6)"/><path d="M470.3 591V611.4L475.7 607L480.1 616.8L483.7 615.3L480.1 605.8L484.9 605.5Z" fill="#050505" stroke="#fff" stroke-width="3.4" stroke-linejoin="round" paint-order="stroke"/></svg>
</div></body></html>
